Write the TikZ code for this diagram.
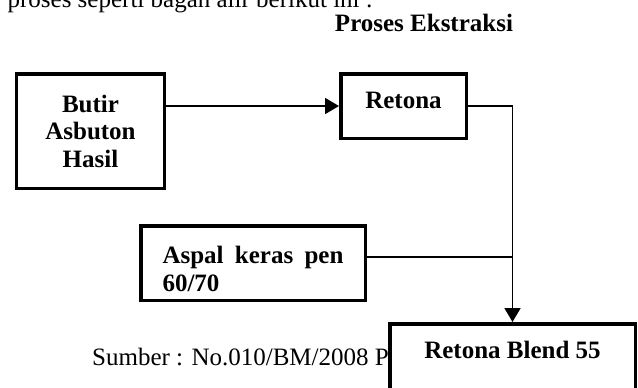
\documentclass[tikz,border=0pt]{standalone}
\usepackage{fontspec}
\setmainfont{Liberation Serif}
\usetikzlibrary{arrows.meta}
\tikzset {
  % framed boxes of the scheme
  box/.style = {draw, fill=white, line width=3.5bp, inner sep=3bp,
    font=\fontsize{25bp}{27.5bp}\selectfont\bfseries,
    path picture={\fill ([yshift=-9bp]path picture bounding box.north west)
      rectangle ([xshift=3bp,yshift=9bp]path picture bounding box.south west);}},
  % plain lines of text
  plain/.style = {inner sep=0pt, font=\fontsize{25bp}{28bp}\selectfont},
  heading/.style = {plain, font=\fontsize{25bp}{28bp}\selectfont\bfseries},
  % connectors
  link/.style = {line width=1.8bp},
  flow/.style = {link, -{Triangle[length=14bp,width=16bp]}},
}
\begin{document}
\begin{tikzpicture}[x=1bp, y=-1bp]
        \useasboundingbox (0,0) rectangle (638,387);
        \clip (0,0) rectangle (638,387);

        \node[plain, anchor=base east] (intro) at (373,7) {proses seperti bagan alir berikut ini :};
        \node[heading, anchor=base] (judul) at (424,31) {Proses Ekstraksi};

        \node[box, minimum width=147.5bp, minimum height=114.5bp, align=center] (butir) at (90.5,131) {Butir\\Asbuton\\Hasil};
        \node[box, minimum width=125.5bp, minimum height=64.5bp, text height=17bp, text depth=13bp] (retona) at (403.5,106) {Retona};
        \node[box, minimum width=224.5bp, minimum height=74.5bp, text width=181bp, align=left] (aspal) at (253,263) {\rule{0pt}{29bp}Aspal\hfill keras\hfill pen\\60/70};
        \node[plain, anchor=base west] (sumber) at (92,365) {Sumber : No.010/BM/2008 P};
        \node[box, minimum width=245.5bp, anchor=north, inner ysep=17.25bp, text height=17bp, text depth=50bp] (blend) at (512.5,322) {Retona Blend 55};

        \draw[flow] (retona.west -| butir.east) -- (retona.west);
        \draw[flow] (retona.east) -| (blend.north);
        \draw[link] ([yshift=6bp]aspal.east) -- ([yshift=6bp]aspal.east -| blend.north);
      \end{tikzpicture}
\end{document}
